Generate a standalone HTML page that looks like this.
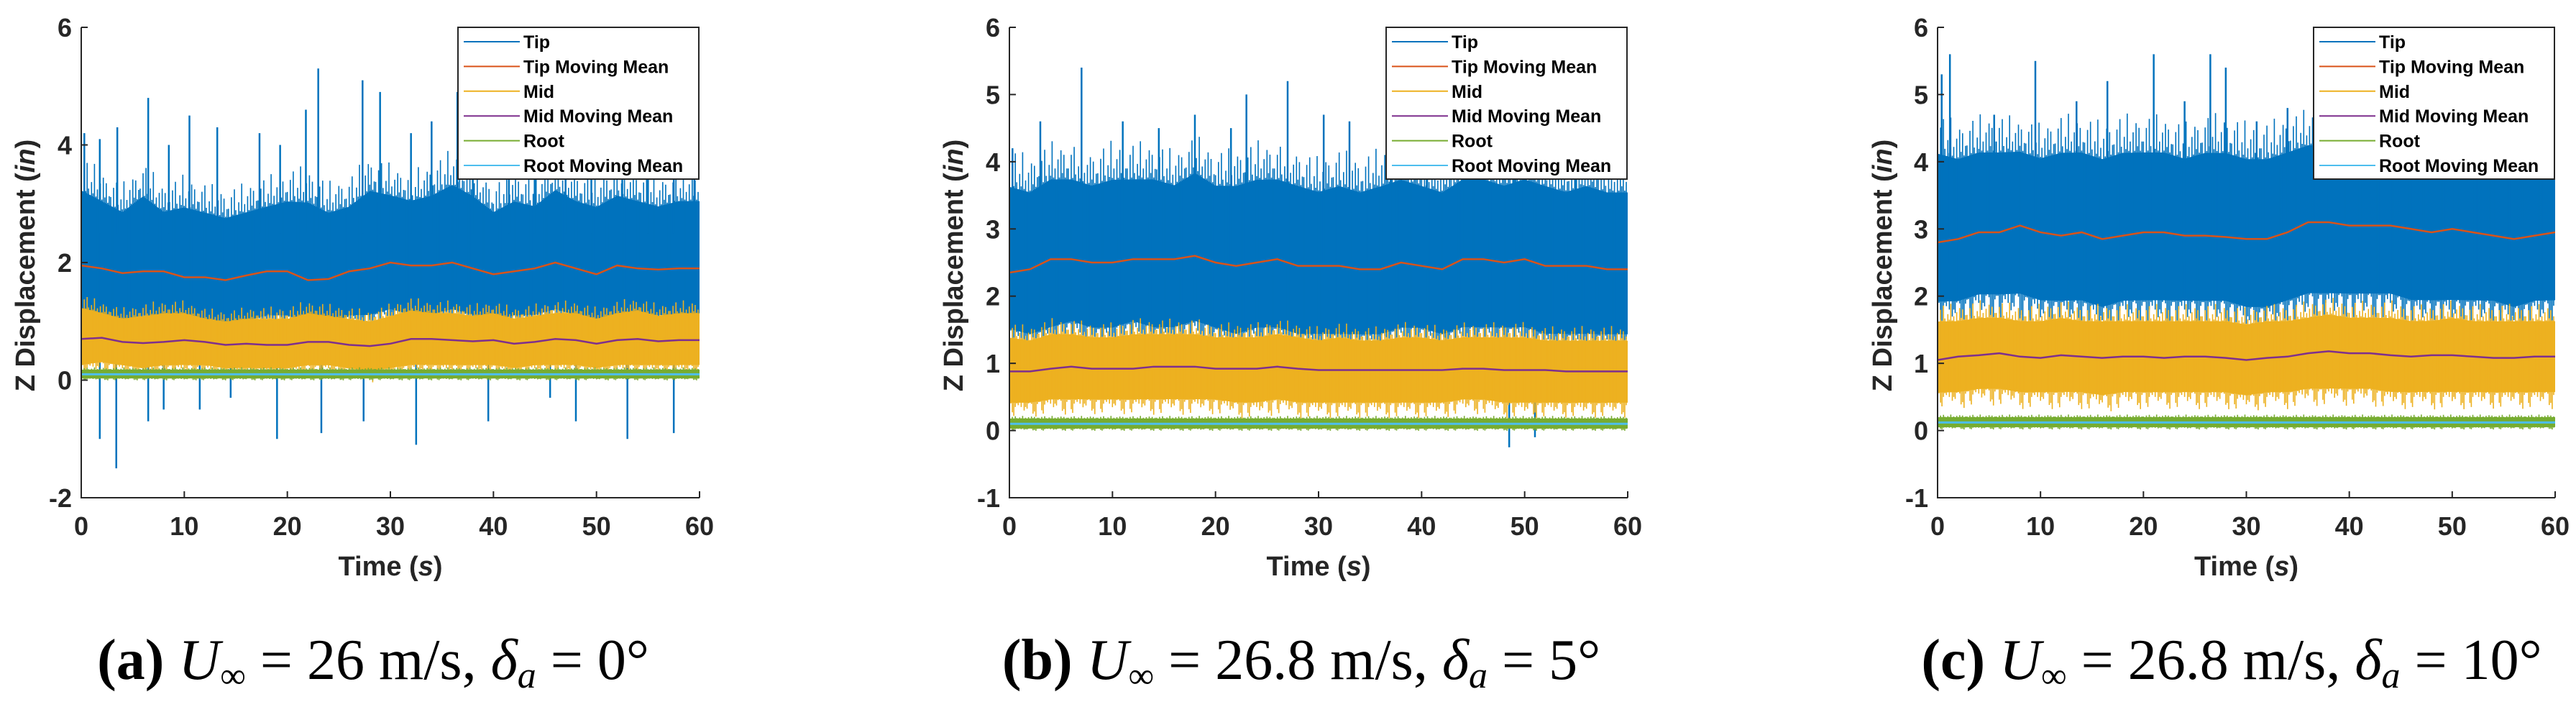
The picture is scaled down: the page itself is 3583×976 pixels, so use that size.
<!DOCTYPE html>
<html><head><meta charset="utf-8"><style>
html,body{margin:0;padding:0;background:#fff;}
svg{display:block;}
.tk{font-family:"Liberation Sans",sans-serif;font-weight:bold;font-size:36px;fill:#262626;}
.ttl{font-family:"Liberation Sans",sans-serif;font-weight:bold;font-size:38px;fill:#262626;}
.lg{font-family:"Liberation Sans",sans-serif;font-weight:bold;font-size:25px;fill:#000;}
.cap{font-family:"Liberation Serif",serif;font-size:80px;fill:#000;}
</style></head><body>
<svg id="fig" width="3583" height="976" viewBox="0 0 3583 976" xmlns="http://www.w3.org/2000/svg"></svg>
<script>
// ---- data (time axis 0..60 s, samples every 2 s) ----
const timeSteps = [0,2,4,6,8,10,12,14,16,18,20,22,24,26,28,30,32,34,36,38,40,42,44,46,48,50,52,54,56,58,60];
const xTicks = [0,10,20,30,40,50,60];
const yTicksA = [-2,0,2,4,6];
const yTicksBC = [-1,0,1,2,3,4,5,6];
const legendLabels = ["Tip","Tip Moving Mean","Mid","Mid Moving Mean","Root","Root Moving Mean"];
const captionsCase = ["a","b","c"];
const captionSpeed = ["26","26.8","26.8"];
const captionDefl = ["0","5","10"];

// Panel a
const tipMeanA = [1.95,1.9,1.82,1.85,1.85,1.75,1.75,1.7,1.78,1.85,1.85,1.7,1.72,1.85,1.9,2.0,1.95,1.95,2.0,1.9,1.8,1.85,1.9,2.0,1.9,1.8,1.95,1.9,1.88,1.9,1.9];
const tipHiA = [3.4,3.2,3.0,3.3,3.0,3.1,3.0,2.9,3.0,3.1,3.2,3.2,3.0,3.1,3.4,3.3,3.2,3.3,3.5,3.3,3.0,3.2,3.1,3.4,3.2,3.1,3.3,3.2,3.1,3.2,3.2];
const tipLoA = [1.1,1.0,0.9,1.0,1.0,0.9,0.9,0.8,0.9,1.0,1.0,0.9,0.8,1.0,1.0,1.1,1.0,1.0,1.1,1.0,0.9,1.0,1.0,1.1,1.0,0.9,1.0,1.0,1.0,1.0,1.0];
const tipSpikeTA = [0.3,1.8,3.5,6.5,8.5,10.5,13.2,17.3,19.3,21.8,23.0,27.3,29.0,32.0,34.0,36.5,38.0,41.5,44.0,47.0,49.5,52.5,55.0,57.5,59.5,1.8,3.4,6.5,8.0,11.5,14.5,19.0,23.3,27.4,32.5,39.5,45.5,48.0,53.0,57.5];
const tipSpikeVA = [4.2,4.1,4.3,4.8,4.0,4.5,4.3,4.2,4.0,4.6,5.3,5.1,4.9,4.2,4.4,4.9,4.5,4.3,4.5,4.0,4.7,3.9,4.6,4.0,3.9,-1.0,-1.5,-0.7,-0.5,-0.5,-0.3,-1.0,-0.9,-0.7,-1.1,-0.7,-0.3,-0.7,-1.0,-0.9];
const midMeanA = [0.7,0.72,0.65,0.63,0.65,0.68,0.65,0.6,0.62,0.6,0.6,0.65,0.65,0.6,0.58,0.62,0.7,0.7,0.68,0.66,0.68,0.62,0.65,0.7,0.68,0.62,0.68,0.7,0.66,0.68,0.68];
const midHiA = [1.3,1.2,1.1,1.15,1.2,1.2,1.1,1.05,1.1,1.1,1.1,1.2,1.15,1.1,1.05,1.15,1.25,1.2,1.2,1.15,1.2,1.1,1.15,1.2,1.2,1.1,1.2,1.25,1.15,1.2,1.2];
const midLoA = [0.2,0.25,0.2,0.15,0.2,0.2,0.2,0.15,0.15,0.15,0.15,0.2,0.2,0.15,0.1,0.15,0.2,0.2,0.2,0.2,0.2,0.15,0.2,0.2,0.2,0.15,0.2,0.2,0.2,0.2,0.2];
const rootMeanA = [0.1,0.1,0.1,0.1,0.1,0.1,0.1,0.1,0.1,0.1,0.1,0.1,0.1,0.1,0.1,0.1,0.1,0.1,0.1,0.1,0.1,0.1,0.1,0.1,0.1,0.1,0.1,0.1,0.1,0.1,0.1];

// Panel b
const tipMeanB = [2.35,2.4,2.55,2.55,2.5,2.5,2.55,2.55,2.55,2.6,2.5,2.45,2.5,2.55,2.45,2.45,2.45,2.4,2.4,2.5,2.45,2.4,2.55,2.55,2.5,2.55,2.45,2.45,2.45,2.4,2.4];
const tipHiB = [3.8,3.7,3.9,3.9,3.8,3.9,3.9,3.9,3.8,4.0,3.8,3.8,3.9,3.9,3.8,3.7,3.8,3.7,3.8,3.9,3.8,3.7,3.9,3.9,3.8,3.9,3.8,3.7,3.8,3.7,3.7];
const tipLoB = [1.4,1.3,1.4,1.5,1.4,1.4,1.5,1.4,1.4,1.5,1.4,1.3,1.4,1.4,1.3,1.3,1.3,1.3,1.3,1.4,1.4,1.3,1.4,1.4,1.4,1.4,1.3,1.3,1.3,1.3,1.3];
const tipSpikeTB = [0.3,3.0,7.0,11.0,14.5,18.0,21.5,23.0,27.0,30.5,33.0,37.0,40.5,44.0,49.0,55.0,48.5,51.0];
const tipSpikeVB = [4.2,4.6,5.4,4.6,4.5,4.7,4.5,5.0,5.2,4.7,4.6,4.4,4.4,4.3,4.6,4.3,-0.25,-0.1];
const midMeanB = [0.88,0.88,0.92,0.95,0.92,0.92,0.92,0.95,0.95,0.95,0.92,0.92,0.92,0.95,0.92,0.9,0.9,0.9,0.9,0.9,0.9,0.9,0.92,0.92,0.9,0.9,0.9,0.88,0.88,0.88,0.88];
const midHiB = [1.45,1.4,1.5,1.5,1.45,1.45,1.5,1.5,1.5,1.5,1.45,1.45,1.45,1.5,1.45,1.4,1.45,1.4,1.4,1.45,1.45,1.4,1.45,1.45,1.45,1.45,1.4,1.4,1.4,1.4,1.4];
const midLoB = [0.35,0.35,0.4,0.4,0.4,0.4,0.4,0.4,0.4,0.4,0.4,0.35,0.35,0.4,0.35,0.35,0.35,0.35,0.35,0.35,0.35,0.35,0.4,0.4,0.35,0.35,0.35,0.35,0.35,0.35,0.35];
const rootMeanB = [0.1,0.1,0.1,0.1,0.1,0.1,0.1,0.1,0.1,0.1,0.1,0.1,0.1,0.1,0.1,0.1,0.1,0.1,0.1,0.1,0.1,0.1,0.1,0.1,0.1,0.1,0.1,0.1,0.1,0.1,0.1];

// Panel c
const tipMeanC = [2.8,2.85,2.95,2.95,3.05,2.95,2.9,2.95,2.85,2.9,2.95,2.95,2.9,2.9,2.88,2.85,2.85,2.95,3.1,3.1,3.05,3.05,3.05,3.0,2.95,3.0,2.95,2.9,2.85,2.9,2.95];
const tipHiC = [4.3,4.2,4.3,4.3,4.3,4.2,4.3,4.3,4.2,4.3,4.3,4.3,4.2,4.3,4.3,4.2,4.2,4.3,4.4,4.4,4.3,4.3,4.3,4.3,4.2,4.3,4.2,4.2,4.2,4.2,4.2];
const tipLoC = [1.8,1.8,1.9,1.9,1.9,1.8,1.8,1.8,1.7,1.8,1.8,1.8,1.8,1.8,1.8,1.7,1.7,1.8,1.9,1.9,1.9,1.9,1.9,1.8,1.8,1.8,1.8,1.8,1.7,1.8,1.8];
const tipSpikeTC = [0.4,1.2,5.5,9.5,13.5,16.5,21.0,24.0,26.5,28.0,31.0,34.0,37.0,41.0,44.0,47.0,50.0,54.0,57.0];
const tipSpikeVC = [5.3,5.6,4.7,5.5,4.9,5.2,5.6,4.9,5.6,5.4,4.6,4.8,4.6,4.7,4.6,4.5,4.7,4.5,4.6];
const midMeanC = [1.05,1.1,1.12,1.15,1.1,1.08,1.12,1.1,1.08,1.1,1.1,1.08,1.1,1.1,1.08,1.05,1.08,1.1,1.15,1.18,1.15,1.15,1.12,1.1,1.12,1.12,1.1,1.08,1.08,1.1,1.1];
const midHiC = [1.7,1.7,1.75,1.75,1.7,1.7,1.75,1.7,1.7,1.7,1.7,1.7,1.7,1.7,1.7,1.65,1.7,1.7,1.75,1.8,1.75,1.75,1.75,1.7,1.7,1.75,1.7,1.7,1.7,1.7,1.7];
const midLoC = [0.5,0.5,0.55,0.55,0.5,0.5,0.5,0.5,0.45,0.5,0.5,0.5,0.5,0.5,0.5,0.45,0.5,0.5,0.55,0.55,0.55,0.55,0.5,0.5,0.5,0.5,0.5,0.5,0.5,0.5,0.5];
const rootMeanC = [0.12,0.12,0.12,0.12,0.12,0.12,0.12,0.12,0.12,0.12,0.12,0.12,0.12,0.12,0.12,0.12,0.12,0.12,0.12,0.12,0.12,0.12,0.12,0.12,0.12,0.12,0.12,0.12,0.12,0.12,0.12];

// purely visual texture (streak length multipliers), not data
const TEX=[1.0,0.85,1.15,0.9,1.25,0.95,0.88,1.05,0.92,1.3,0.9,1.0,0.87,1.1,0.9,1.2,0.95,1.15,0.9,1.0];

const panels = [
 {id:"a",L:113,R:973,ymin:-2,ymax:6,yt:yTicksA,tm:tipMeanA,th:tipHiA,tl:tipLoA,st:tipSpikeTA,sv:tipSpikeVA,mm:midMeanA,mh:midHiA,ml:midLoA,rm:rootMeanA,ylx:35,capx:519},
 {id:"b",L:1404,R:2264,ymin:-1,ymax:6,yt:yTicksBC,tm:tipMeanB,th:tipHiB,tl:tipLoB,st:tipSpikeTB,sv:tipSpikeVB,mm:midMeanB,mh:midHiB,ml:midLoB,rm:rootMeanB,ylx:1326,capx:1810},
 {id:"c",L:2695,R:3554,ymin:-1,ymax:6,yt:yTicksBC,tm:tipMeanC,th:tipHiC,tl:tipLoC,st:tipSpikeTC,sv:tipSpikeVC,mm:midMeanC,mh:midHiC,ml:midLoC,rm:rootMeanC,ylx:2618,capx:3104}
];
const TOP=38, BOT=692;
const C={tip:"#0072BD",tipm:"#D95319",mid:"#EDB120",midm:"#7E2F8E",root:"#77AC30",rootm:"#4DBEEE"};
const NS="http://www.w3.org/2000/svg";
const svg=document.getElementById("fig");
function mk(tag,attrs,parent){const e=document.createElementNS(NS,tag);for(const k in attrs)e.setAttribute(k,attrs[k]);(parent||svg).appendChild(e);return e;}

panels.forEach((p,pi)=>{
  const g=mk("g",{});
  
  
  const xs=t=>p.L+(t/60)*(p.R-p.L);
  const ys=v=>BOT-(v-p.ymin)/(p.ymax-p.ymin)*(BOT-TOP);
  const clipId="clip"+p.id;
  const cp=mk("clipPath",{id:clipId},g);mk("rect",{x:p.L,y:TOP,width:p.R-p.L,height:BOT-TOP},cp);
  const plot=mk("g",{"clip-path":"url(#"+clipId+")"},g);

  function band(hi,lo,mean,color,name,nsub){
    const ch=hi.map((h,i)=>mean[i]+0.88*(h-mean[i])), cl=lo.map((l,i)=>mean[i]-0.88*(mean[i]-l));
    let d="M"+timeSteps.map((t,i)=>xs(t)+","+ys(ch[i])).join(" L");
    d+=" L"+timeSteps.slice().reverse().map((t,j)=>{const i=timeSteps.length-1-j;return xs(t)+","+ys(cl[i]);}).join(" L")+"Z";
    const e=mk("path",{d:d,fill:color},plot);
    
    
    let s="",c=0;
    for(let i=0;i<timeSteps.length-1;i++){
      for(let k=0;k<nsub;k++){
        const f=k/nsub, t=timeSteps[i]+f*(timeSteps[i+1]-timeSteps[i]);
        const m=mean[i]+f*(mean[i+1]-mean[i]);
        const h=hi[i]+f*(hi[i+1]-hi[i]), l=lo[i]+f*(lo[i+1]-lo[i]);
        const a=TEX[c%TEX.length], b=TEX[(c*7+3)%TEX.length]; c++;
        s+="M"+xs(t).toFixed(1)+","+ys(m+(h-m)*a).toFixed(1)+" L"+xs(t).toFixed(1)+","+ys(m-(m-l)*b).toFixed(1)+" ";
      }
    }
    const st=mk("path",{d:s,stroke:color,"stroke-width":1.6,fill:"none"},plot);
    
    
  }
  function line(vals,color,name,w){
    const e=mk("polyline",{points:timeSteps.map((t,i)=>xs(t)+","+ys(vals[i])).join(" "),fill:"none",stroke:color,"stroke-width":w||2.5},plot);
    
    
  }
  band(p.th,p.tl,p.tm,C.tip,"tip-series",14);
  let sp="";
  p.st.forEach((t,i)=>{const base=p.sv[i]>1?2.5:0.5;sp+="M"+xs(t)+","+ys(base)+" L"+xs(t)+","+ys(p.sv[i])+" ";});
  const spk=mk("path",{d:sp,stroke:C.tip,"stroke-width":2.5,fill:"none"},plot);
  
  
  line(p.tm,C.tipm,"tip-moving-mean");
  band(p.mh,p.ml,p.mm,C.mid,"mid-series",14);
  line(p.mm,C.midm,"mid-moving-mean");
  band(p.rm.map(v=>v+0.09),p.rm.map(v=>v-0.08),p.rm,C.root,"root-series",14);
  line(p.rm,C.rootm,"root-moving-mean",3);

  const ax=mk("path",{d:`M${p.L},${TOP} L${p.L},${BOT} L${p.R},${BOT}`,stroke:"#262626","stroke-width":2,fill:"none"},g);
  
  
  xTicks.forEach(t=>{
    mk("line",{x1:xs(t),x2:xs(t),y1:BOT,y2:BOT-9,stroke:"#262626","stroke-width":2},g);
    const tx=mk("text",{x:xs(t),y:744,"text-anchor":"middle",class:"tk"},g);tx.textContent=t;
    
    
  });
  p.yt.forEach(v=>{
    mk("line",{x1:p.L,x2:p.L+9,y1:ys(v),y2:ys(v),stroke:"#262626","stroke-width":2},g);
    const tx=mk("text",{x:p.L-13,y:ys(v)+13,"text-anchor":"end",class:"tk"},g);tx.textContent=v;
    
    
  });
  const xt=mk("text",{x:(p.L+p.R)/2,y:800,"text-anchor":"middle",class:"ttl"},g);
  xt.innerHTML='Time (<tspan font-style="italic">s</tspan>)';
  
  
  const yt=mk("text",{x:0,y:0,"text-anchor":"middle",class:"ttl",transform:`translate(${p.ylx+13},369) rotate(-90)`},g);
  yt.innerHTML='Z Displacement (<tspan font-style="italic">in</tspan>)';
  
  

  const lx=p.R-336, lgG=mk("g",{},g);
  
  
  mk("rect",{x:lx,y:38,width:335,height:211,fill:"#fff",stroke:"#262626","stroke-width":2},lgG);
  const lc=[C.tip,C.tipm,C.mid,C.midm,C.root,C.rootm];
  legendLabels.forEach((lab,i)=>{
    const y=58+i*34.4;
    mk("line",{x1:lx+8,x2:lx+86,y1:y,y2:y,stroke:lc[i],"stroke-width":2},lgG);
    const t=mk("text",{x:lx+91,y:y+9,class:"lg"},lgG);t.textContent=lab;
    
    
  });

  const cap=mk("text",{x:p.capx,y:944,"text-anchor":"middle",class:"cap"},svg);
  cap.innerHTML=`<tspan font-weight="bold">(${captionsCase[pi]})</tspan> <tspan font-style="italic">U</tspan><tspan font-size="50" dy="12">∞</tspan><tspan dy="-12"> = ${captionSpeed[pi]} m/s, </tspan><tspan font-style="italic">δ</tspan><tspan font-style="italic" font-size="52" dy="12">a</tspan><tspan dy="-12"> = ${captionDefl[pi]}°</tspan>`;
  
  
});
</script>
</body></html>
